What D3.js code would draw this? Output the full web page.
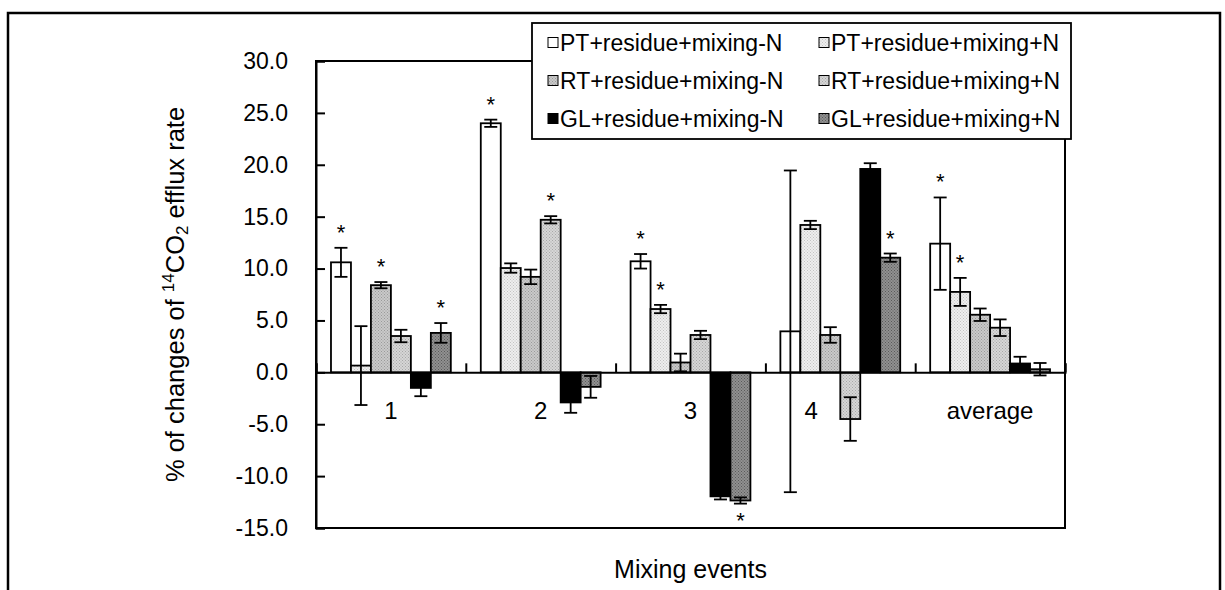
<!DOCTYPE html>
<html>
<head>
<meta charset="utf-8">
<script src="https://cdn.jsdelivr.net/npm/d3@7/dist/d3.min.js"></script>
<style>
  html, body { margin: 0; padding: 0; background: #fff; }
  svg { display: block; font-family: "Liberation Sans", Arial, sans-serif; }
</style>
</head>
<body>
<svg id="chart" width="1225" height="590"></svg>
<script>
// Mixing events on the x axis, six treatments per event
const categories = ["1", "2", "3", "4", "average"];
const seriesNames = [
  "PT+residue+mixing-N", "PT+residue+mixing+N",
  "RT+residue+mixing-N", "RT+residue+mixing+N",
  "GL+residue+mixing-N", "GL+residue+mixing+N"
];

// % change of 14CO2 efflux rate per treatment
const ptMinusN = [10.6, 24.0, 10.7, 3.95, 12.4];
const ptPlusN  = [0.65, 10.05, 6.1, 14.2, 7.75];
const rtMinusN = [8.4, 9.2, 0.95, 3.6, 5.55];
const rtPlusN  = [3.5, 14.7, 3.6, -4.5, 4.3];
const glMinusN = [-1.5, -2.9, -11.95, 19.6, 0.85];
const glPlusN  = [3.8, -1.4, -12.35, 11.05, 0.3];

// error bar half-widths
const ptMinusNErr = [1.4, 0.35, 0.7, 15.5, 4.45];
const ptPlusNErr  = [3.8, 0.45, 0.4, 0.4, 1.35];
const rtMinusNErr = [0.3, 0.7, 0.85, 0.75, 0.6];
const rtPlusNErr  = [0.6, 0.35, 0.4, 2.1, 0.8];
const glMinusNErr = [0.8, 1.0, 0.3, 0.55, 0.65];
const glPlusNErr  = [0.95, 1.05, 0.3, 0.4, 0.6];

// significance markers (1 = asterisk)
const ptMinusNSig = [1, 1, 1, 0, 1];
const ptPlusNSig  = [0, 0, 1, 0, 1];
const rtMinusNSig = [1, 0, 0, 0, 0];
const rtPlusNSig  = [0, 1, 0, 0, 0];
const glMinusNSig = [0, 0, 0, 0, 0];
const glPlusNSig  = [1, 0, 1, 1, 0];

const yTicks = [-15, -10, -5, 0, 5, 10, 15, 20, 25, 30];

const seriesValues = [ptMinusN, ptPlusN, rtMinusN, rtPlusN, glMinusN, glPlusN];
const seriesErrors = [ptMinusNErr, ptPlusNErr, rtMinusNErr, rtPlusNErr, glMinusNErr, glPlusNErr];
const seriesSig = [ptMinusNSig, ptPlusNSig, rtMinusNSig, rtPlusNSig, glMinusNSig, glPlusNSig];

const svg = d3.select("#chart");

// fills: plain, dotted textures and solid
const defs = svg.append("defs");
function dotPattern(id, base, dot) {
  const p = defs.append("pattern").attr("id", id)
    .attr("patternUnits", "userSpaceOnUse").attr("width", 3).attr("height", 3);
  p.append("rect").attr("width", 3).attr("height", 3).attr("fill", base);
  p.append("rect").attr("x", 0).attr("y", 0).attr("width", 1).attr("height", 1).attr("fill", dot);
  p.append("rect").attr("x", 1.5).attr("y", 1.5).attr("width", 1).attr("height", 1).attr("fill", dot);
}
dotPattern("fillPtPlus", "#eeeeee", "#c4c4c4");
dotPattern("fillRtMinus", "#c9c9c9", "#9a9a9a");
dotPattern("fillRtPlus", "#d6d6d6", "#a8a8a8");
dotPattern("fillGlPlus", "#909090", "#5a5a5a");
const fills = ["#ffffff", "url(#fillPtPlus)", "url(#fillRtMinus)", "url(#fillRtPlus)", "#000000", "url(#fillGlPlus)"];

// outer frame
svg.append("path")
  .attr("d", "M8,600 L8,13 L1220,13 L1220,600")
  .attr("fill", "none").attr("stroke", "#000").attr("stroke-width", 2.5);

const plot = { left: 316, right: 1065, top: 61, bottom: 528 };

const y = d3.scaleLinear().domain([-15, 30]).range([plot.bottom, plot.top]);
const x0 = d3.scaleBand().domain(categories).range([plot.left, plot.right]).padding(0);
const x1 = d3.scaleBand().domain(seriesNames)
  .range([x0.bandwidth() * 0.1, x0.bandwidth() * 0.9]).padding(0);
const xEdge = d3.scaleLinear().domain([0, categories.length]).range([plot.left, plot.right]);

// plot border
svg.append("rect")
  .attr("x", plot.left).attr("y", plot.top)
  .attr("width", plot.right - plot.left).attr("height", plot.bottom - plot.top)
  .attr("fill", "none").attr("stroke", "#000").attr("stroke-width", 2);

// y axis with inside ticks
const yAxis = svg.append("g")
  .attr("transform", `translate(${plot.left},0)`)
  .call(d3.axisLeft(y).tickValues(yTicks).tickSize(-9).tickPadding(28)
    .tickFormat(d => d.toFixed(1)));
yAxis.select(".domain").attr("stroke-width", 2);
yAxis.selectAll(".tick line").attr("stroke-width", 2);
yAxis.selectAll(".tick text")
  .attr("font-size", 23).attr("fill", "#000")
  .attr("font-family", "'Liberation Sans', Arial, sans-serif");

// bars
const bars = [];
seriesNames.forEach((name, si) => {
  categories.forEach((cat, ci) => {
    bars.push({
      name, si, cat,
      v: seriesValues[si][ci],
      e: seriesErrors[si][ci],
      sig: seriesSig[si][ci]
    });
  });
});

const barG = svg.append("g");
barG.selectAll("rect").data(bars).join("rect")
  .attr("x", d => x0(d.cat) + x1(d.name))
  .attr("y", d => y(Math.max(0, d.v)))
  .attr("width", x1.bandwidth())
  .attr("height", d => Math.abs(y(d.v) - y(0)))
  .attr("fill", d => fills[d.si])
  .attr("stroke", "#000").attr("stroke-width", 1.8);

// x axis along zero with category boundary ticks
const xAxis = svg.append("g")
  .attr("transform", `translate(0,${y(0)})`)
  .call(d3.axisBottom(xEdge).tickValues(d3.range(categories.length + 1))
    .tickSize(-9).tickFormat(""));
xAxis.select(".domain").attr("stroke-width", 2);
xAxis.selectAll(".tick line").attr("stroke-width", 2);

// error bars
const capW = 13;
const errG = svg.append("g").attr("stroke", "#000").attr("stroke-width", 1.8);
bars.forEach(d => {
  const cx = x0(d.cat) + x1(d.name) + x1.bandwidth() / 2;
  const yHi = y(d.v + d.e), yLo = y(d.v - d.e);
  errG.append("line").attr("x1", cx).attr("x2", cx).attr("y1", yHi).attr("y2", yLo);
  errG.append("line").attr("x1", cx - capW / 2).attr("x2", cx + capW / 2).attr("y1", yHi).attr("y2", yHi);
  errG.append("line").attr("x1", cx - capW / 2).attr("x2", cx + capW / 2).attr("y1", yLo).attr("y2", yLo);
});

// significance asterisks
svg.append("g").selectAll("text").data(bars.filter(d => d.sig)).join("text")
  .attr("x", d => x0(d.cat) + x1(d.name) + x1.bandwidth() / 2)
  .attr("y", d => d.v >= 0 ? y(d.v + d.e) - 8 : y(d.v - d.e) + 24)
  .attr("text-anchor", "middle")
  .attr("font-size", 22).text("*");

// category labels below zero line
const labelShift = { "4": -29 };
svg.append("g").selectAll("text").data(categories).join("text")
  .attr("x", d => x0(d) + x0.bandwidth() / 2 + (labelShift[d] || 0))
  .attr("y", 419)
  .attr("text-anchor", "middle")
  .attr("font-size", 24).text(d => d);

// axis titles
svg.append("text")
  .attr("x", (plot.left + plot.right) / 2).attr("y", 578)
  .attr("text-anchor", "middle").attr("font-size", 25)
  .text("Mixing events");

const yTitle = svg.append("text")
  .attr("transform", `translate(184,${(plot.top + plot.bottom) / 2}) rotate(-90)`)
  .attr("text-anchor", "middle").attr("font-size", 25.5);
yTitle.append("tspan").text("% of changes of  ");
yTitle.append("tspan").attr("font-size", 17).attr("dy", -10).text("14");
yTitle.append("tspan").attr("dy", 10).text("CO");
yTitle.append("tspan").attr("font-size", 17).attr("dy", 4).text("2");
yTitle.append("tspan").attr("dy", -4).text(" efflux rate");

// legend
const legend = svg.append("g");
legend.append("rect")
  .attr("x", 532).attr("y", 23).attr("width", 539).attr("height", 116)
  .attr("fill", "#fff").attr("stroke", "#000").attr("stroke-width", 1.8);
const legendCols = [548, 819];
const legendRows = [50.5, 88.5, 126.5];
seriesNames.forEach((name, i) => {
  const lx = legendCols[i % 2], ly = legendRows[Math.floor(i / 2)];
  legend.append("rect")
    .attr("x", lx).attr("y", ly - 13).attr("width", 10).attr("height", 10)
    .attr("fill", fills[i]).attr("stroke", "#000").attr("stroke-width", 1);
  legend.append("text")
    .attr("x", lx + 12).attr("y", ly)
    .attr("font-size", 23).text(name);
});
</script>
</body>
</html>
